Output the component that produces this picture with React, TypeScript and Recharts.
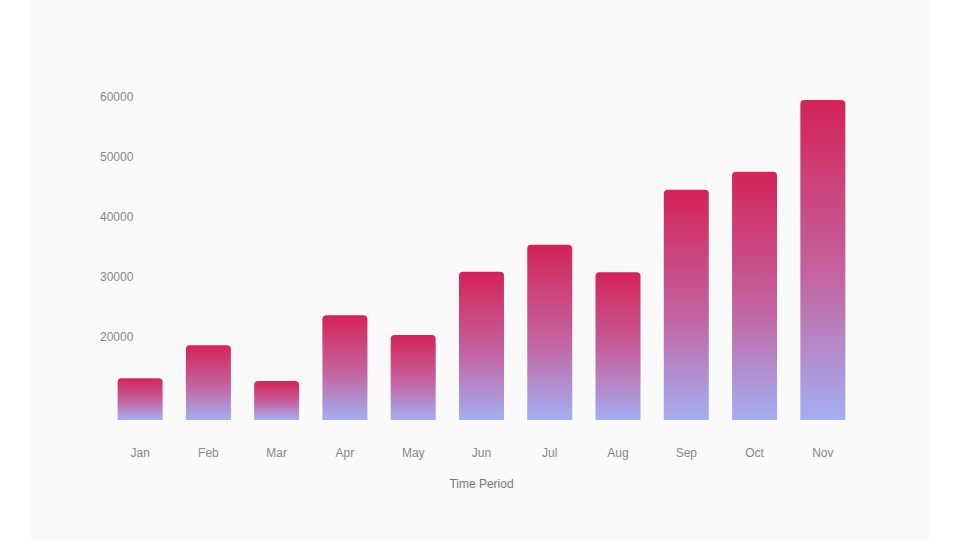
import { Bar, BarChart, XAxis, YAxis } from "recharts";

const MONTHS = ["Jan", "Feb", "Mar", "Apr", "May", "Jun", "Jul", "Aug", "Sep", "Oct", "Nov"];
const REVENUE = [13000, 18500, 12500, 23500, 20200, 30800, 35300, 30700, 44500, 47500, 59500];
const Y_TICKS = [20000, 30000, 40000, 50000, 60000];

const data = MONTHS.map((month, i) => ({ month, revenue: REVENUE[i] }));

export default function App() {
  return (
    <div style={{ position: "absolute", left: 0, top: 0, width: 960, height: 540, background: "#ffffff", fontFamily: "'Liberation Sans', Arial, sans-serif" }}>
      <div style={{ position: "absolute", left: 30, top: 0, width: 900, height: 540, background: "#fafafa" }}>
        <BarChart
          width={900}
          height={540}
          data={data}
          margin={{ top: 97, right: 73, bottom: 50, left: 76 }}
          barCategoryGap="17%"
        >
          <defs>
            <linearGradient id="barFill" x1="0" y1="0" x2="0" y2="1">
              <stop offset="0%" stopColor="#d42358" />
              <stop offset="55%" stopColor="#c364a0" />
              <stop offset="100%" stopColor="#a4aef2" />
            </linearGradient>
          </defs>
          <XAxis
            dataKey="month"
            axisLine={false}
            tickLine={false}
            tickMargin={22}
            height={70}
            tick={{ fontSize: 12, fill: "#888" }}
            label={{ value: "Time Period", position: "insideBottom", offset: 2, fontSize: 12, fill: "#777" }}
          />
          <YAxis
            mirror
            domain={[6000, 60000]}
            ticks={Y_TICKS}
            axisLine={false}
            tickLine={false}
            tick={{ fontSize: 12, fill: "#888", dx: -14 }}
          />
          <Bar dataKey="revenue" fill="url(#barFill)" radius={[4, 4, 0, 0]} isAnimationActive={false} />
        </BarChart>
      </div>
    </div>
  );
}
